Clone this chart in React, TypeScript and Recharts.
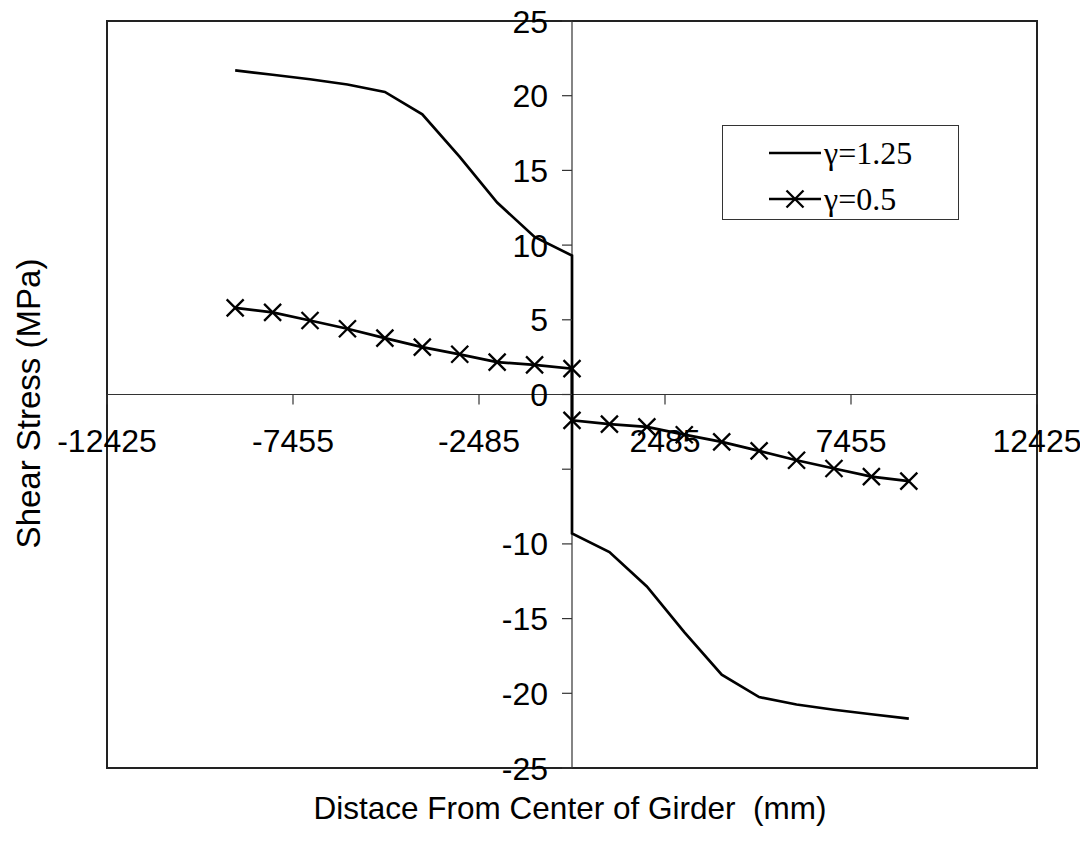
import React from 'react';
import {
  LineChart,
  Line,
  XAxis,
  YAxis,
  ReferenceLine,
  ReferenceArea,
  Legend,
} from 'recharts';

// distance from girder centre (mm); x = 0 appears twice (jump across the support)
const X_POS = [
  -9000, -8000, -7000, -6000, -5000, -4000, -3000, -2000, -1000, 0,
  0, 1000, 2000, 3000, 4000, 5000, 6000, 7000, 8000, 9000,
];
const G125 = [
  21.7, 21.4, 21.1, 20.75, 20.25, 18.75, 15.9, 12.85, 10.55, 9.3,
  -9.3, -10.55, -12.85, -15.9, -18.75, -20.25, -20.75, -21.1, -21.4, -21.7,
];
const G05 = [
  5.8, 5.5, 4.95, 4.4, 3.77, 3.17, 2.69, 2.17, 1.98, 1.73,
  -1.73, -1.98, -2.17, -2.69, -3.17, -3.77, -4.4, -4.95, -5.5, -5.8,
];

const X_TICKS = [-12425, -7455, -2485, 2485, 7455, 12425];
const Y_TICKS = [-25, -20, -15, -10, -5, 0, 5, 10, 15, 20, 25];
const Y_LABELED = [-25, -20, -15, -10, 0, 5, 10, 15, 20, 25];

const SERIES_NAMES = ['γ=1.25', 'γ=0.5'];

const g125Data = X_POS.map((x, i) => ({ x, y: G125[i] }));
const g05Data = X_POS.map((x, i) => ({ x, y: G05[i] }));

// layout (svg pulled up over the body margin so the top "25" label stays inside)
const W = 1072;
const H = 834;
const MARGIN = { top: 21, right: 43, bottom: 0, left: 0 };
const Y_AXIS_W = 99;
const X_AXIS_H = 66;
const PLOT_W = W - MARGIN.left - MARGIN.right - Y_AXIS_W;
const PLOT_H = H - MARGIN.top - MARGIN.bottom - X_AXIS_H;
const ZERO_X = MARGIN.left + Y_AXIS_W + PLOT_W / 2;
const ZERO_Y = MARGIN.top + PLOT_H / 2;

const SANS = '"Liberation Sans", Arial, sans-serif';
const SERIF = '"Liberation Serif", "Times New Roman", serif';
const AXIS_COLOR = '#333';
const TICK_FONT = 32;

const XTick = (props: any) => {
  const { x, payload } = props;
  return (
    <g>
      <line x1={x} x2={x} y1={ZERO_Y} y2={ZERO_Y + 10} stroke={AXIS_COLOR} strokeWidth={1.2} />
      <text x={x} y={ZERO_Y + 57} textAnchor="middle" fontFamily={SANS} fontSize={TICK_FONT} fill="#000">
        {payload.value}
      </text>
    </g>
  );
};

const YTick = (props: any) => {
  const { y, payload } = props;
  return (
    <g>
      <line x1={ZERO_X - 10} x2={ZERO_X} y1={y} y2={y} stroke={AXIS_COLOR} strokeWidth={1.2} />
      {Y_LABELED.includes(payload.value) && (
        <text x={ZERO_X - 24} y={y + 11.5} textAnchor="end" fontFamily={SANS} fontSize={TICK_FONT} fill="#000">
          {payload.value}
        </text>
      )}
    </g>
  );
};

const XMark = (props: any) => {
  const { cx, cy } = props;
  if (cx == null || cy == null) return <g />;
  const s = 8.5;
  return (
    <path
      d={`M${cx - s},${cy - s}L${cx + s},${cy + s}M${cx - s},${cy + s}L${cx + s},${cy - s}`}
      stroke="#000"
      strokeWidth={2.3}
      fill="none"
    />
  );
};

const LegendBox = () => (
  <div
    style={{
      width: 237,
      height: 95,
      border: '1.5px solid #333',
      background: '#fff',
      boxSizing: 'border-box',
      position: 'relative',
    }}
  >
    {SERIES_NAMES.map((name, i) => (
      <div
        key={name}
        style={{
          position: 'absolute',
          left: 44,
          top: 9 + i * 46,
          height: 36,
          display: 'flex',
          alignItems: 'center',
        }}
      >
        <svg width={56} height={24}>
          <line x1={2} x2={54} y1={12} y2={12} stroke="#000" strokeWidth={2.3} />
          {i === 1 && <XMark cx={28} cy={12} />}
        </svg>
        <span style={{ fontFamily: SERIF, fontSize: 32, lineHeight: '36px', color: '#000', marginLeft: 1 }}>
          {name}
        </span>
      </div>
    ))}
  </div>
);

export default function App() {
  return (
    <div style={{ marginTop: -8, width: W, height: H }}>
      <LineChart width={W} height={H} margin={MARGIN}>
        <XAxis
          dataKey="x"
          type="number"
          domain={[-12425, 12425]}
          ticks={X_TICKS}
          interval={0}
          allowDataOverflow
          axisLine={false}
          tickLine={false}
          height={X_AXIS_H}
          tick={<XTick />}
          label={{
            content: () => (
              <text
                x={ZERO_X - 2}
                y={H - 15}
                textAnchor="middle"
                fontFamily={SANS}
                fontSize={31.5}
                fill="#000"
                style={{ whiteSpace: 'pre' }}
              >
                Distace From Center of Girder  (mm)
              </text>
            ),
          }}
        />
        <YAxis
          type="number"
          domain={[-25, 25]}
          ticks={Y_TICKS}
          interval={0}
          allowDataOverflow
          axisLine={false}
          tickLine={false}
          width={Y_AXIS_W}
          tick={<YTick />}
          label={{
            content: () => (
              <text
                x={20}
                y={ZERO_Y + 9}
                textAnchor="middle"
                dominantBaseline="central"
                transform={`rotate(-90, 20, ${ZERO_Y + 9})`}
                fontFamily={SANS}
                fontSize={33}
                fill="#000"
              >
                Shear Stress (MPa)
              </text>
            ),
          }}
        />
        <ReferenceArea
          x1={-12425}
          x2={12425}
          y1={-25}
          y2={25}
          fill="none"
          fillOpacity={0}
          stroke="#222"
          strokeWidth={2}
        />
        <ReferenceLine y={0} stroke={AXIS_COLOR} strokeWidth={1.2} />
        <ReferenceLine x={0} stroke={AXIS_COLOR} strokeWidth={1.2} />
        <Line
          data={g125Data}
          dataKey="y"
          name={SERIES_NAMES[0]}
          type="linear"
          stroke="#000"
          strokeWidth={2.7}
          dot={false}
          isAnimationActive={false}
        />
        <Line
          data={g05Data}
          dataKey="y"
          name={SERIES_NAMES[1]}
          type="linear"
          stroke="#000"
          strokeWidth={2.7}
          dot={<XMark />}
          isAnimationActive={false}
        />
        <Legend
          layout="vertical"
          align="center"
          verticalAlign="middle"
          content={<LegendBox />}
          wrapperStyle={{ position: 'absolute', left: 714, top: 125, width: 237, height: 95 }}
        />
      </LineChart>
    </div>
  );
}
